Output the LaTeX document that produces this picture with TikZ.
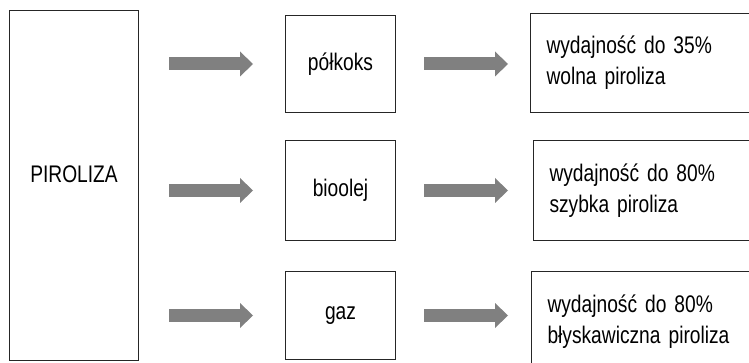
\documentclass[tikz,border=0pt]{standalone}
\usepackage{fontspec}
\setmainfont[FakeStretch=0.8]{Liberation Sans}
\usetikzlibrary{arrows.meta}

\tikzset{
  box/.style={draw=black!85, line width=1pt, inner sep=0pt, anchor=north west},
  midbox/.style={box, minimum width=110pt},
  outbox/.style={box, minimum width=240pt, text width=208pt, inner xsep=16pt, align=left},
  fatarrow/.style={draw=black!50, line width=13pt, -{Triangle[length=13pt,width=25pt,line width=0pt]}},
}

\begin{document}
\begin{tikzpicture}[x=1pt,y=-1pt,font=\fontsize{24pt}{31pt}\selectfont]
		\clip (0,0) rectangle (749,363);
		\node[box,minimum width=129pt,minimum height=350pt] (pir) at (9,10) {};
		\node at ([yshift=11pt]pir.center) {PIROLIZA};
		\node[midbox,minimum height=97pt] (polk) at (285,15) {półkoks};
		\node[midbox,minimum height=100pt] (bio) at (285,140) {bioolej};
		\node[midbox,minimum height=88pt] (gaz) at (285,271) {gaz};
		\node[outbox,minimum height=99pt] (wyd1) at (530,13) {wydajność do 35\%\\wolna piroliza};
		\node[outbox,minimum height=100pt] (wyd2) at (533,140) {wydajność do 80\%\\szybka piroliza};
		\node[outbox,minimum height=100pt] (wyd3) at (531,271) {wydajność do 80\%\\błyskawiczna piroliza};
		\draw[fatarrow,shorten <=30pt,shorten >=32pt] (pir.east |- polk.west) -- (polk.west);
		\draw[fatarrow,shorten <=30pt,shorten >=32pt] (pir.east |- bio.west) -- (bio.west);
		\draw[fatarrow,shorten <=30pt,shorten >=32pt] (pir.east |- gaz.west) -- (gaz.west);
		\draw[fatarrow,shorten <=28pt,shorten >=22pt] (polk.east) -- (polk.east -| wyd1.west);
		\draw[fatarrow,shorten <=28pt,shorten >=25pt] (bio.east) -- (bio.east -| wyd2.west);
		\draw[fatarrow,shorten <=28pt,shorten >=23pt] (gaz.east) -- (gaz.east -| wyd3.west);
	\end{tikzpicture}
\end{document}
